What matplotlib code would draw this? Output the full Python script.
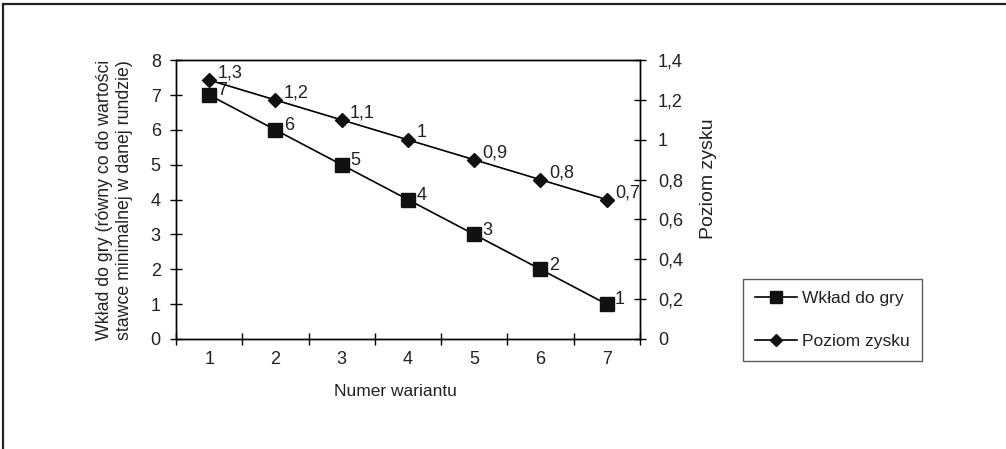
import matplotlib.pyplot as plt
from matplotlib.patches import Rectangle
from matplotlib.ticker import FixedLocator, NullFormatter, FixedFormatter

plt.rcParams['font.family'] = ['Liberation Sans', 'DejaVu Sans']

warianty = [1, 2, 3, 4, 5, 6, 7]
wklad = [7, 6, 5, 4, 3, 2, 1]
zysk = [1.3, 1.2, 1.1, 1.0, 0.9, 0.8, 0.7]
zysk_etykiety = ["1,3", "1,2", "1,1", "1", "0,9", "0,8", "0,7"]
lewe_ticki = [0, 1, 2, 3, 4, 5, 6, 7, 8]
prawe_ticki = [0, 0.2, 0.4, 0.6, 0.8, 1.0, 1.2, 1.4]
prawe_etykiety = ["0", "0,2", "0,4", "0,6", "0,8", "1", "1,2", "1,4"]

fig = plt.figure(figsize=(10.06, 4.49), dpi=100)
fig.patches.append(Rectangle((3 / 1006, -0.1), 1.2, (1 - 4 / 449) + 0.1,
                             transform=fig.transFigure, fill=False,
                             edgecolor='#222222', linewidth=1.6))

ax = fig.add_axes([0.175, 0.245, 0.461, 0.621])
ax2 = ax.twinx()

l1, = ax.plot(warianty, wklad, color='black', lw=1.2, marker='s', ms=10,
              markerfacecolor='#111111', markeredgecolor='#111111', label='Wkład do gry')
l2, = ax2.plot(warianty, zysk, color='black', lw=1.2, marker='D', ms=7.5,
               markerfacecolor='#111111', markeredgecolor='#111111', label='Poziom zysku')

for x, y in zip(warianty, wklad):
    ax.annotate(str(y), (x, y), xytext=(6, 3), textcoords='offset points',
                fontsize=13, va='center', ha='left', color='#222222')
for x, y, t in zip(warianty, zysk, zysk_etykiety):
    ax2.annotate(t, (x, y), xytext=(6, 5), textcoords='offset points',
                 fontsize=13, va='center', ha='left', color='#222222')

ax.set_xlim(0.5, 7.5)
ax.set_ylim(0, 8)
ax2.set_ylim(0, 1.4)

ax.xaxis.set_major_locator(FixedLocator([w - 0.5 for w in warianty] + [7.5]))
ax.xaxis.set_major_formatter(NullFormatter())
ax.xaxis.set_minor_locator(FixedLocator(warianty))
ax.xaxis.set_minor_formatter(FixedFormatter([str(w) for w in warianty]))
ax.tick_params(axis='x', which='major', direction='inout', length=8, width=1)
ax.tick_params(axis='x', which='minor', length=0, pad=9, labelsize=13,
               labelcolor='#222222')

ax.set_yticks(lewe_ticki)
ax.tick_params(axis='y', direction='inout', length=8, width=1, pad=7,
               labelsize=13, labelcolor='#222222')
ax2.set_yticks(prawe_ticki)
ax2.set_yticklabels(prawe_etykiety)
ax2.tick_params(axis='y', direction='inout', length=8, width=1, pad=9,
                labelsize=13, labelcolor='#222222')

for a in (ax, ax2):
    for s in a.spines.values():
        s.set_linewidth(1.0)

ax.set_xlabel('Numer wariantu', fontsize=12.5, color='#222222')
ax.xaxis.set_label_coords(0.474, -0.16)
ax.set_ylabel('Wkład do gry (równy co do wartości\nstawce minimalnej w danej rundzie)',
              fontsize=12.8, linespacing=1.25, color='#222222')
ax.yaxis.set_label_coords(-0.092, 0.5)
ax2.set_ylabel('Poziom zysku', fontsize=14, color='#222222')
ax2.yaxis.set_label_coords(1.13, 0.575)

fig.legend([l1, l2], ['Wkład do gry', 'Poziom zysku'],
           loc='upper left', bbox_to_anchor=(743 / 1006, 1 - 279 / 449),
           borderaxespad=0, frameon=True, fancybox=False, edgecolor='#333333',
           fontsize=12.5, handlelength=2.4, labelspacing=1.6, borderpad=0.7,
           markerscale=0.85, handletextpad=0.3, labelcolor='#222222')

fig.savefig('out.png', dpi=100)
